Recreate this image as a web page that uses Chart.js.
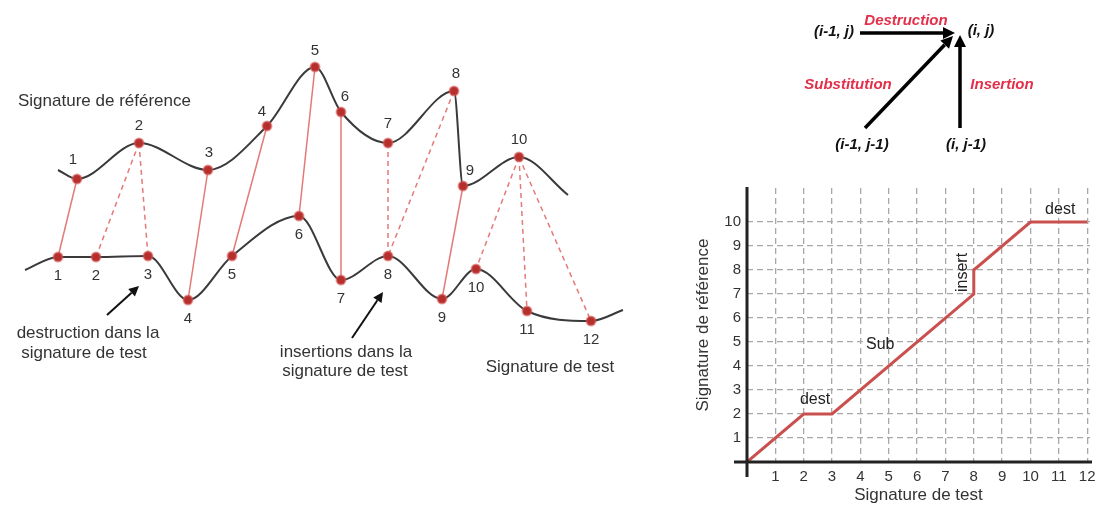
<!DOCTYPE html>
<html lang="fr">
<head>
<meta charset="UTF-8">
<title>Alignement de signatures</title>
<style>
  body { margin: 0; background: #fff; }
  #sketch { position: absolute; left: 0; top: 0; }
  #grid { position: absolute; left: 690px; top: 170px; }
</style>
</head>
<body>
<canvas id="sketch" width="1113" height="507"></canvas>
<canvas id="grid" width="423" height="337"></canvas>

<script src="https://cdn.jsdelivr.net/npm/chart.js"></script>
<script>
// --- croquis : signature de reference (points 1..10) ---
const refX = [77, 139, 208, 267, 315, 341, 388, 454, 463, 519];
const refY = [179, 143, 170, 126, 67, 112, 143, 91, 186, 157];
const refEnds = [[58, 170], [568, 195]];

// --- croquis : signature de test (points 1..12) ---
const testX = [58, 96, 148, 188, 232, 299, 341, 388, 442, 476, 527, 591];
const testY = [257, 257, 256, 300, 256, 216, 280, 256, 299, 269, 311, 321];
const testEnds = [[25, 270], [623, 310]];

// appariements reference -> test (1 = pointille)
const linkRef    = [1, 2, 2, 3, 4, 5, 6, 7, 8, 9, 10, 10, 10];
const linkTest   = [1, 2, 3, 4, 5, 6, 7, 8, 8, 9, 10, 11, 12];
const linkDashed = [0, 1, 1, 0, 0, 0, 0, 1, 1, 0, 1, 1, 1];

// --- grille : chemin d'alignement ---
const testTicks = [1, 2, 3, 4, 5, 6, 7, 8, 9, 10, 11, 12];
const refTicks = [1, 2, 3, 4, 5, 6, 7, 8, 9, 10];
const pathTest = [0, 2, 3, 8, 8, 10, 12];
const pathRef  = [0, 2, 2, 7, 8, 10, 10];
const pathNotes = ['dest', 'Sub', 'insert', 'dest'];
const pathNoteAt = [[2.4, 2.6], [4.7, 4.9], [7.6, 7.9], [11.05, 10.5]];

const FONT = "Arial, 'Liberation Sans', sans-serif";
const INK = '#333';

// decalages des numeros au-dessus / au-dessous des points
const refLabelOff = [[-4, -19], [0, -17], [1, -17], [-5, -14], [0, -16], [4, -15], [0, -19], [2, -17], [7, -15], [0, -17]];
const testLabelDy = 19;

function pts(xs, ys) { return xs.map((x, i) => ({ x: x, y: ys[i] })); }

function drawArrow(ctx, x1, y1, x2, y2, w, head) {
  const a = Math.atan2(y2 - y1, x2 - x1);
  const bx = x2 - head * Math.cos(a), by = y2 - head * Math.sin(a);
  ctx.lineWidth = w;
  ctx.beginPath();
  ctx.moveTo(x1, y1);
  ctx.lineTo(bx, by);
  ctx.stroke();
  ctx.beginPath();
  ctx.moveTo(x2, y2);
  ctx.lineTo(bx + head * 0.5 * Math.sin(a), by - head * 0.5 * Math.cos(a));
  ctx.lineTo(bx - head * 0.5 * Math.sin(a), by + head * 0.5 * Math.cos(a));
  ctx.closePath();
  ctx.fill();
}

function text(ctx, s, x, y, font, color, align) {
  ctx.font = font;
  ctx.fillStyle = color;
  ctx.textAlign = align || 'center';
  ctx.textBaseline = 'middle';
  ctx.fillText(s, x, y);
}

// ---------- croquis (courbes + schema de recurrence) ----------
const curveStyle = {
  type: 'line',
  borderColor: '#3a3a3a',
  borderWidth: 2,
  cubicInterpolationMode: 'monotone',
  pointRadius: c => (c.dataIndex === 0 || c.dataIndex === c.dataset.data.length - 1) ? 0 : 4.5,
  pointBackgroundColor: '#b5302d',
  pointBorderColor: 'rgba(215,90,90,0.55)',
  pointBorderWidth: 2,
  order: 0
};

const links = linkRef.map((r, i) => ({
  type: 'line',
  data: [{ x: refX[r - 1], y: refY[r - 1] }, { x: testX[linkTest[i] - 1], y: testY[linkTest[i] - 1] }],
  borderColor: '#e27a78',
  borderWidth: 1.5,
  borderDash: linkDashed[i] ? [5, 4] : [],
  pointRadius: 0,
  order: 2
}));

const sketchNotes = {
  id: 'sketchNotes',
  afterDatasetsDraw(chart) {
    const { ctx } = chart;
    const sx = chart.scales.x, sy = chart.scales.y;
    const px = v => sx.getPixelForValue(v), py = v => sy.getPixelForValue(v);
    ctx.save();
    const num = '15px ' + FONT, big = '17px ' + FONT;
    refX.forEach((x, i) => text(ctx, String(i + 1), px(x + refLabelOff[i][0]), py(refY[i] + refLabelOff[i][1]), num, INK));
    testX.forEach((x, i) => text(ctx, String(i + 1), px(x), py(testY[i] + testLabelDy), num, INK));

    text(ctx, 'Signature de référence', px(18), py(101), big, INK, 'left');
    text(ctx, 'destruction dans la', px(88), py(333), big, INK);
    text(ctx, 'signature de test', px(84), py(353), big, INK);
    text(ctx, 'insertions dans la', px(346), py(352), big, INK);
    text(ctx, 'signature de test', px(345), py(371), big, INK);
    text(ctx, 'Signature de test', px(550), py(367), big, INK);

    ctx.strokeStyle = '#111';
    ctx.fillStyle = '#111';
    drawArrow(ctx, px(107), py(315), px(139), py(286), 2, 10);
    drawArrow(ctx, px(352), py(338), px(383), py(292), 2, 10);

    // schema de recurrence
    const bi = 'italic bold 15px ' + FONT;
    const red = '#e2304a';
    text(ctx, '(i-1, j)', px(834), py(32), bi, '#111');
    text(ctx, '(i, j)', px(981), py(31), bi, '#111');
    text(ctx, '(i-1, j-1)', px(862), py(145), bi, '#111');
    text(ctx, '(i, j-1)', px(966), py(145), bi, '#111');
    text(ctx, 'Destruction', px(906), py(21), bi, red);
    text(ctx, 'Substitution', px(848), py(85), bi, red);
    text(ctx, 'Insertion', px(1002), py(85), bi, red);
    ctx.strokeStyle = '#000';
    ctx.fillStyle = '#000';
    drawArrow(ctx, px(860), py(33), px(955), py(33), 3.5, 12);
    drawArrow(ctx, px(865), py(128), px(953), py(36), 3.5, 12);
    drawArrow(ctx, px(960), py(128), px(960), py(35), 3.5, 12);
    ctx.restore();
  }
};

new Chart(document.getElementById('sketch'), {
  type: 'line',
  data: {
    datasets: [
      Object.assign({ data: [{ x: refEnds[0][0], y: refEnds[0][1] }, ...pts(refX, refY), { x: refEnds[1][0], y: refEnds[1][1] }] }, curveStyle),
      Object.assign({ data: [{ x: testEnds[0][0], y: testEnds[0][1] }, ...pts(testX, testY), { x: testEnds[1][0], y: testEnds[1][1] }] }, curveStyle),
      ...links
    ]
  },
  options: {
    responsive: false,
    animation: false,
    layout: { padding: 0 },
    scales: {
      x: { type: 'linear', min: 0, max: 1113, display: false },
      y: { type: 'linear', min: 0, max: 507, reverse: true, display: false }
    },
    plugins: { legend: { display: false }, tooltip: { enabled: false } }
  },
  plugins: [sketchNotes]
});

// ---------- grille d'alignement ----------
const gridExtras = {
  id: 'gridExtras',
  afterDatasetsDraw(chart) {
    const { ctx } = chart;
    const sx = chart.scales.x, sy = chart.scales.y;
    const x0 = sx.getPixelForValue(0), y0 = sy.getPixelForValue(0);
    ctx.save();
    ctx.strokeStyle = '#222';
    ctx.lineWidth = 3;
    ctx.beginPath();
    ctx.moveTo(x0, chart.chartArea.top - 1);
    ctx.lineTo(x0, y0 + 15);
    ctx.moveTo(x0 - 13, y0);
    ctx.lineTo(chart.chartArea.right + 2, y0);
    ctx.stroke();
    pathNotes.forEach((s, i) => {
      const x = sx.getPixelForValue(pathNoteAt[i][0]), y = sy.getPixelForValue(pathNoteAt[i][1]);
      ctx.save();
      ctx.translate(x, y);
      if (s === 'insert') ctx.rotate(-Math.PI / 2);
      text(ctx, s, 0, 0, '16px ' + FONT, '#222');
      ctx.restore();
    });
    ctx.restore();
  }
};

new Chart(document.getElementById('grid'), {
  type: 'line',
  data: {
    datasets: [{
      data: pts(pathTest, pathRef),
      borderColor: '#c9504e',
      borderWidth: 3,
      pointRadius: 0,
      tension: 0
    }]
  },
  options: {
    responsive: false,
    animation: false,
    layout: { padding: { left: 0, right: 23, top: 18, bottom: 0 } },
    scales: {
      x: {
        type: 'linear', min: 0, max: 12.1,
        afterBuildTicks: s => { s.ticks = testTicks.map(v => ({ value: v })); },
        afterFit: s => { s.height = 45; },
        grid: { color: '#a8a8a8', lineWidth: 1.3, drawTicks: false },
        border: { display: false, dash: [6, 4] },
        ticks: { padding: 6, color: INK, font: { family: FONT, size: 15 } },
        title: { display: true, text: 'Signature de test', color: INK, font: { family: FONT, size: 17 }, padding: { top: 0, bottom: 1 } }
      },
      y: {
        type: 'linear', min: 0, max: 11.42,
        afterBuildTicks: s => { s.ticks = refTicks.map(v => ({ value: v })); },
        afterFit: s => { s.width = 57; },
        grid: { color: '#a8a8a8', lineWidth: 1.3, drawTicks: false },
        border: { display: false, dash: [6, 4] },
        ticks: { padding: 6, color: INK, font: { family: FONT, size: 15 } },
        title: { display: true, text: 'Signature de référence', color: INK, font: { family: FONT, size: 17 }, padding: { top: 3, bottom: 0 } }
      }
    },
    plugins: { legend: { display: false }, tooltip: { enabled: false } }
  },
  plugins: [gridExtras]
});
</script>
</body>
</html>
